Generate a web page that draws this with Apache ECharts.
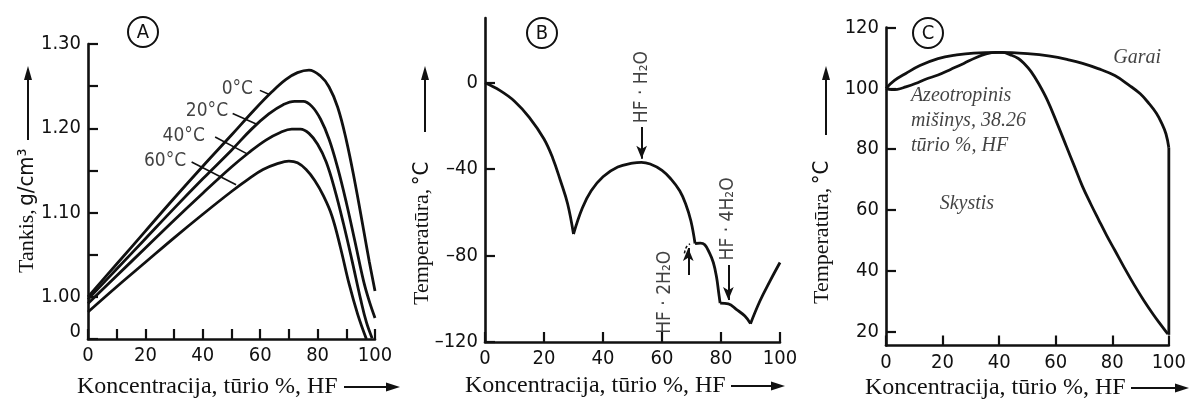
<!DOCTYPE html>
<html>
<head>
<meta charset="utf-8">
<script src="https://cdn.jsdelivr.net/npm/echarts@6/dist/echarts.min.js"></script>
<style>
  html, body { margin: 0; padding: 0; background: #fff; }
  #chart { width: 1189px; height: 407px; }
</style>
</head>
<body>
<div id="chart"></div>
<script>
// ---- Panel A: density of aqueous HF vs. concentration, per temperature ----
const densityLabels = ['0°C', '20°C', '40°C', '60°C'];
const density0C = [[0,1.000],[10,1.039],[20,1.078],[30,1.117],[40,1.155],[50,1.192],[58,1.222],[64,1.243],[69,1.258],[73,1.266],[77,1.269],[81,1.262],[84,1.249],[87,1.225],[90,1.186],[93,1.136],[96,1.080],[98,1.042],[100,1.007]];
const density20C = [[0,0.997],[10,1.033],[20,1.069],[30,1.105],[40,1.140],[50,1.174],[57,1.199],[63,1.217],[68,1.228],[72,1.232],[75,1.232],[78,1.226],[81,1.211],[84,1.187],[87,1.153],[90,1.112],[93,1.066],[96,1.019],[98,0.995],[100,0.975]];
const density40C = [[0,0.992],[10,1.025],[20,1.058],[30,1.091],[40,1.123],[50,1.154],[56,1.171],[62,1.186],[67,1.195],[71,1.199],[74,1.199],[77,1.194],[80,1.181],[83,1.160],[86,1.127],[89,1.087],[92,1.043],[95,0.997],[97,0.970],[99,0.951]];
const density60C = [[0,0.982],[10,1.012],[20,1.041],[30,1.070],[40,1.098],[50,1.125],[56,1.140],[61,1.151],[66,1.158],[70,1.161],[73,1.159],[76,1.151],[79,1.138],[82,1.120],[85,1.096],[88,1.058],[91,1.015],[94,0.979],[97,0.950]];
// where each temperature label sits (text right edge) and its leader line
const densityLabelAt = [[58.2,1.247],[49.5,1.220],[41.4,1.191],[34.9,1.161]];
const densityLeaders = [
  [[59.9,1.245],[63.2,1.240]],
  [[50.4,1.2175],[58.8,1.2048]],
  [[44.3,1.1897],[55.3,1.1699]],
  [[36.1,1.160],[51.6,1.133]]
];
const xTicksA = [0,10,20,30,40,50,60,70,80,90,100];
const xLabelsA = [0,20,40,60,80,100];
const yTicksA = [0.95,1.00,1.05,1.10,1.15,1.20,1.25,1.30];
const yLabelsA = [0.958,1.00,1.10,1.20,1.30];

// ---- Panel B: freezing curve of HF–H2O ----
const freezeIce = [[0,0],[5,-3.5],[10,-8.5],[15,-16],[20,-26],[23,-35],[25.5,-45],[28,-56],[30,-70]];
const freezeMono = [[30,-70],[33,-58],[36,-50],[40,-43.5],[45,-39],[50,-37.2],[53,-36.8],[56,-37.6],[60,-40.5],[63,-44.5],[66,-50],[68,-56],[69.8,-64],[71.2,-74.4]];
const freezeDi = [[71.2,-74.4],[73,-74.2],[74.5,-75],[76,-78.5],[77.4,-83.2],[78.5,-90],[79.2,-97],[79.7,-102]];
const freezeTetra = [[79.7,-102],[82.5,-102.3],[85.3,-105],[88.1,-108],[90,-111.5]];
const freezeHF = [[90,-111.5],[93.2,-101],[96.6,-91.8],[100,-83.2]];
const freezeMetastable = [[67.6,-79],[68.3,-76],[69.5,-74.6]];
const hydrateNames = ['HF · H₂O', 'HF · 2H₂O', 'HF · 4H₂O'];
const hydrateLabelAt = [[53.1,-2],[61,-97],[82.4,-63]];
const hydrateArrows = [
  [[53.1,-20.5],[53.1,-35.2]],
  [[68.9,-89],[68.9,-76.5]],
  [[82.5,-84.4],[82.5,-100.6]]
];
const xTicksB = [0,20,40,60,80,100];
const yTicksB = [-120,-80,-40,0];

// ---- Panel C: boiling diagram HF–H2O ----
const vapourLine = [[0,100],[3,102.6],[7,104.9],[12,107.5],[18.4,109.8],[25,111],[31,111.6],[40,111.8],[50,111.4],[58,110.6],[65,109.3],[69.5,108.2],[75,106.5],[80.9,104.2],[86,101],[89.9,98.2],[93,95],[95.6,91.8],[97.5,88.5],[99,85],[100,80.5]];
const vapourEnd = [[100,80.5],[100,19]];
const liquidLine = [[0,100],[2,99.6],[4,99.7],[7,100.5],[10.4,101.6],[14,103],[18.4,104.4],[23,106.3],[27.5,108.2],[31.5,110],[35.4,111.3],[39,111.8],[41.1,111.8],[44,111],[46.8,109.8],[49,108],[51.3,105.5],[54,101.5],[57,96.2],[60.5,88.5],[63.8,80.9],[66.7,74.2],[69.5,67.7],[72.4,62],[75.2,56.8],[78,51.7],[80.9,46.8],[84.3,41],[87.7,35.5],[91.1,30.4],[94.5,25.7],[97,22.5],[99.6,19.3]];
const phaseNotes = ['Garai', 'Skystis', 'Azeotropinis\nmišinys, 38.26\ntūrio %, HF'];
const phaseNoteAt = [[88.8,110],[28.6,62],[8.8,89.2]];
const xTicksC = [0,20,40,60,80,100];
const yTicksC = [20,40,60,80,100,120];

const INK = '#111111';
const NUM_FONT = '"DejaVu Sans Condensed", "DejaVu Sans", sans-serif';
const SERIF = '"Liberation Serif", "Times New Roman", serif';

function valueAxis(gridIndex, min, max, ticks, labels, fmt) {
  return {
    type: 'value', gridIndex, min, max,
    axisLine: { show: true, onZero: false, lineStyle: { color: INK, width: 2.6 } },
    axisTick: { show: true, inside: true, length: 10, customValues: ticks, lineStyle: { color: INK, width: 2.2 } },
    axisLabel: { show: true, customValues: labels, formatter: fmt, color: INK, fontFamily: NUM_FONT, fontSize: 20, margin: 7 },
    splitLine: { show: false }
  };
}

function curve(xi, yi, data, extra) {
  return Object.assign({
    type: 'line', xAxisIndex: xi, yAxisIndex: yi, data,
    symbol: 'none', smooth: 0.4, silent: true,
    lineStyle: { color: INK, width: 2.8 }
  }, extra || {});
}

function notes(xi, yi, at, texts, label) {
  return {
    type: 'scatter', xAxisIndex: xi, yAxisIndex: yi, symbolSize: 0, silent: true,
    data: at.map((p, i) => ({ value: p, name: texts[i] })),
    label: Object.assign({ show: true, formatter: p => p.name, color: INK }, label)
  };
}

function arrowUp(x, yTop, yBottom) {
  return [
    { type: 'line', shape: { x1: x, y1: yBottom, x2: x, y2: yTop + 10 }, style: { stroke: INK, lineWidth: 2 } },
    { type: 'polygon', shape: { points: [[x, yTop], [x - 4, yTop + 14], [x + 4, yTop + 14]] }, style: { fill: INK } }
  ];
}
function arrowRight(xLeft, xRight, y) {
  return [
    { type: 'line', shape: { x1: xLeft, y1: y, x2: xRight - 10, y2: y }, style: { stroke: INK, lineWidth: 2 } },
    { type: 'polygon', shape: { points: [[xRight, y], [xRight - 14, y - 4.5], [xRight - 14, y + 4.5]] }, style: { fill: INK } }
  ];
}
function panelBadge(cx, cy, letter) {
  return [
    { type: 'circle', shape: { cx, cy, r: 15 }, style: { fill: 'none', stroke: INK, lineWidth: 2 } },
    { type: 'text', x: cx, y: cy + 1, style: { text: letter, fill: INK, font: '20px ' + NUM_FONT, align: 'center', verticalAlign: 'middle' } }
  ];
}
function yTitle(x, y, serifPart, numPart) {
  return {
    type: 'text', x, y, rotation: Math.PI / 2,
    style: {
      text: '{s|' + serifPart + '} {d|' + numPart + '}',
      align: 'left', verticalAlign: 'middle', fill: INK,
      rich: { s: { fontFamily: SERIF, fontSize: 22, fill: INK }, d: { fontFamily: NUM_FONT, fontSize: 22, fill: INK } }
    }
  };
}
function xTitle(x, y) {
  return { type: 'text', x, y, style: { text: 'Koncentracija, tūrio %, HF', fill: INK, font: '24px ' + SERIF, align: 'left', verticalAlign: 'middle' } };
}

const option = {
  animation: false,
  backgroundColor: '#fff',
  grid: [
    { left: 88, top: 44, width: 287, height: 295 },
    { left: 485, top: 18, width: 295, height: 324 },
    { left: 886, top: 27.5, width: 293, height: 318 }
  ],
  xAxis: [
    valueAxis(0, 0, 100, xTicksA, xLabelsA),
    valueAxis(1, 0, 100, xTicksB, xTicksB),
    valueAxis(2, 0, 100, xTicksC, xTicksC)
  ],
  yAxis: [
    valueAxis(0, 0.95, 1.30, yTicksA, yLabelsA, v => (v < 0.97 ? '0' : v.toFixed(2))),
    valueAxis(1, -120, 30, yTicksB, yTicksB, v => (v < 0 ? '–' + Math.abs(v) : String(v))),
    valueAxis(2, 15.5, 120, yTicksC, yTicksC)
  ],
  series: [
    // Panel A
    curve(0, 0, density0C, {
      markLine: {
        silent: true, symbol: 'none', animation: false,
        label: { show: false },
        lineStyle: { color: INK, width: 1.6, type: 'solid' },
        data: densityLeaders.map(seg => [{ coord: seg[0] }, { coord: seg[1] }])
      }
    }),
    curve(0, 0, density20C),
    curve(0, 0, density40C),
    curve(0, 0, density60C),
    notes(0, 0, densityLabelAt, densityLabels, { position: 'left', distance: 2, fontFamily: NUM_FONT, fontSize: 19 }),
    // Panel B
    curve(1, 1, freezeIce, {
      markLine: {
        silent: true, symbol: ['none', 'arrow'], symbolSize: [8, 13], animation: false,
        label: { show: false },
        lineStyle: { color: INK, width: 2, type: 'solid' },
        data: hydrateArrows.map(seg => [{ coord: seg[0] }, { coord: seg[1] }])
      }
    }),
    curve(1, 1, freezeMono),
    curve(1, 1, freezeDi),
    curve(1, 1, freezeTetra),
    curve(1, 1, freezeHF),
    curve(1, 1, freezeMetastable, { lineStyle: { color: INK, width: 1.5, type: [3, 2] } }),
    notes(1, 1, hydrateLabelAt, hydrateNames, { position: 'inside', rotate: 90, fontFamily: NUM_FONT, fontSize: 19 }),
    // Panel C
    curve(2, 2, vapourLine),
    curve(2, 2, vapourEnd, { smooth: false }),
    curve(2, 2, liquidLine),
    notes(2, 2, phaseNoteAt.slice(0, 2), phaseNotes.slice(0, 2), { position: 'inside', fontFamily: SERIF, fontStyle: 'italic', fontSize: 20 }),
    notes(2, 2, phaseNoteAt.slice(2), phaseNotes.slice(2), { position: 'right', distance: 0, align: 'left', fontFamily: SERIF, fontStyle: 'italic', fontSize: 20, lineHeight: 25 })
  ],
  graphic: [].concat(
    panelBadge(143, 32, 'A'),
    panelBadge(542, 33, 'B'),
    panelBadge(928, 33, 'C'),
    [yTitle(27, 273, 'Tankis,', 'g/cm³')], arrowUp(28, 66, 140),
    [yTitle(422, 305, 'Temperatūra,', '°C')], arrowUp(425, 66, 132),
    [yTitle(822, 304, 'Temperatūra,', '°C')], arrowUp(826, 66, 135),
    [xTitle(77, 387)], arrowRight(344, 400, 387),
    [xTitle(465, 386)], arrowRight(731, 785, 386),
    [xTitle(865, 388)], arrowRight(1131, 1189, 388)
  )
};

const chart = echarts.init(document.getElementById('chart'), null, { renderer: 'canvas' });
chart.setOption(option);
</script>
</body>
</html>
